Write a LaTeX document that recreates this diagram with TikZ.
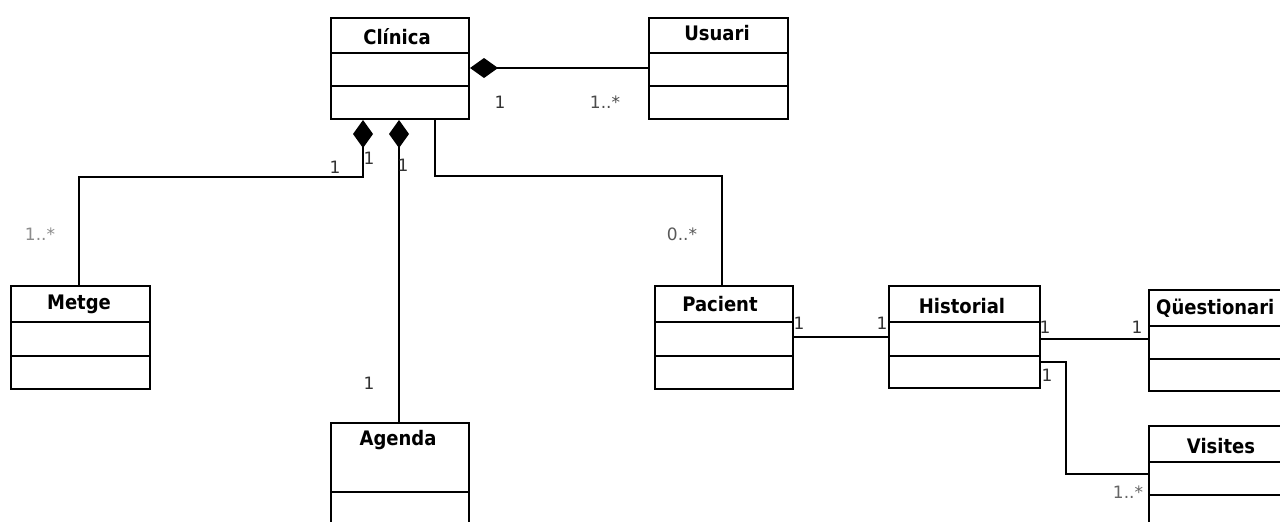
\documentclass[tikz,border=0pt]{standalone}
\usepackage{fontspec}
\setmainfont{DejaVu Sans}
\newfontfamily\titlefont{DejaVu Sans Condensed}
\usetikzlibrary{arrows.meta}
\begin{document}
\begin{tikzpicture}[x=1pt,y=-1pt,
  cls/.style={draw, line width=2pt, inner sep=0pt, anchor=north west, fill=none},
  ttl/.style={font=\titlefont\fontsize{20}{22}\selectfont\bfseries, inner sep=0pt},
  mult/.style={font=\fontsize{17}{19}\selectfont, text=black!80, inner sep=0pt},
  multg/.style={font=\fontsize{17}{19}\selectfont, text=black!45, inner sep=0pt},
  assoc/.style={line width=1.6pt},
  comp/.style={line width=1.6pt, {Diamond[fill=black, length=28pt, width=20pt]}-}
]
\useasboundingbox (0,0) rectangle (1280,522);
\clip (0,0) rectangle (1280,522);
\fill[white] (0,0) rectangle (1280,522);

% class boxes
\node[cls, minimum width=138pt, minimum height=101pt] (clinica) at (330,17) {};
\node[cls, minimum width=139pt, minimum height=101pt] (usuari) at (648,17) {};
\node[cls, minimum width=139pt, minimum height=103pt] (metge) at (10,285) {};
\node[cls, minimum width=138pt, minimum height=130pt] (agenda) at (330,422) {};
\node[cls, minimum width=138pt, minimum height=103pt] (pacient) at (654,285) {};
\node[cls, minimum width=151pt, minimum height=102pt] (historial) at (888,285) {};
\node[cls, minimum width=160pt, minimum height=101pt] (questionari) at (1148,289) {};
\node[cls, minimum width=160pt, minimum height=130pt] (visites) at (1148,425) {};

% compartments
\foreach \n/\a/\b in {clinica/53/86, usuari/53/86, metge/322/356, pacient/322/356, historial/322/356, questionari/326/359, visites/462/495}{
  \draw[line width=2pt] (\n.west |- 0,\a) -- (\n.east |- 0,\a);
  \draw[line width=2pt] (\n.west |- 0,\b) -- (\n.east |- 0,\b);
}
\draw[line width=2pt] (agenda.west |- 0,492) -- (agenda.east |- 0,492);

% titles
\node[ttl] (tclinica) at (397,37) {Clínica};
\node[ttl] (tusuari) at (717,33) {Usuari};
\node[ttl] (tmetge) at (79,304) {Metge};
\node[ttl] (tagenda) at (398,440) {Agenda};
\node[ttl] (tpacient) at (720,304) {Pacient};
\node[ttl] (thistorial) at (962,306) {Historial};
\node[ttl, anchor=west] (tquestionari) at (1156,308) {Qüestionari};
\node[ttl] (tvisites) at (1221,446) {Visites};

% connectors
\coordinate (m1) at (363,177);
\coordinate (m2) at (79,177);
\coordinate (p1) at (435,176);
\coordinate (p2) at (722,176);
\coordinate (v1) at (1066,362);
\coordinate (v2) at (1066,474);

\draw[comp] (clinica.east |- 0,68) -- (usuari.west |- 0,68);
\draw[comp] (clinica.south -| m1) -- (m1) -- (m2) -- (metge.north -| m2);
\draw[comp] (clinica.south -| 399,0) -- (agenda.north -| 399,0);
\draw[assoc] (clinica.south -| p1) -- (p1) -- (p2) -- (pacient.north -| p2);
\draw[assoc] (pacient.east |- 0,337) -- (historial.west |- 0,337);
\draw[assoc] (historial.east |- 0,339) -- (questionari.west |- 0,339);
\draw[assoc] (historial.east |- v1) -- (v1) -- (v2) -- (visites.west |- v2);

% multiplicities
\node[mult] (l1) at (500,102) {1};
\node[mult, text=black!70] (l2) at (605,102) {1..*};
\node[mult] (l3) at (335,167) {1};
\node[mult] (l4) at (369,158) {1};
\node[mult] (l5) at (403,165) {1};
\node[multg] (l6) at (40,234) {1..*};
\node[mult] (l7) at (369,383) {1};
\node[mult, text=black!65] (l8) at (682,234) {0..*};
\node[mult] (l9) at (799,323) {1};
\node[mult] (l10) at (882,323) {1};
\node[mult] (l11) at (1045,327) {1};
\node[mult] (l12) at (1137,327) {1};
\node[mult] (l13) at (1047,375) {1};
\node[mult, text=black!60] (l14) at (1128,492) {1..*};
\end{tikzpicture}
\end{document}
